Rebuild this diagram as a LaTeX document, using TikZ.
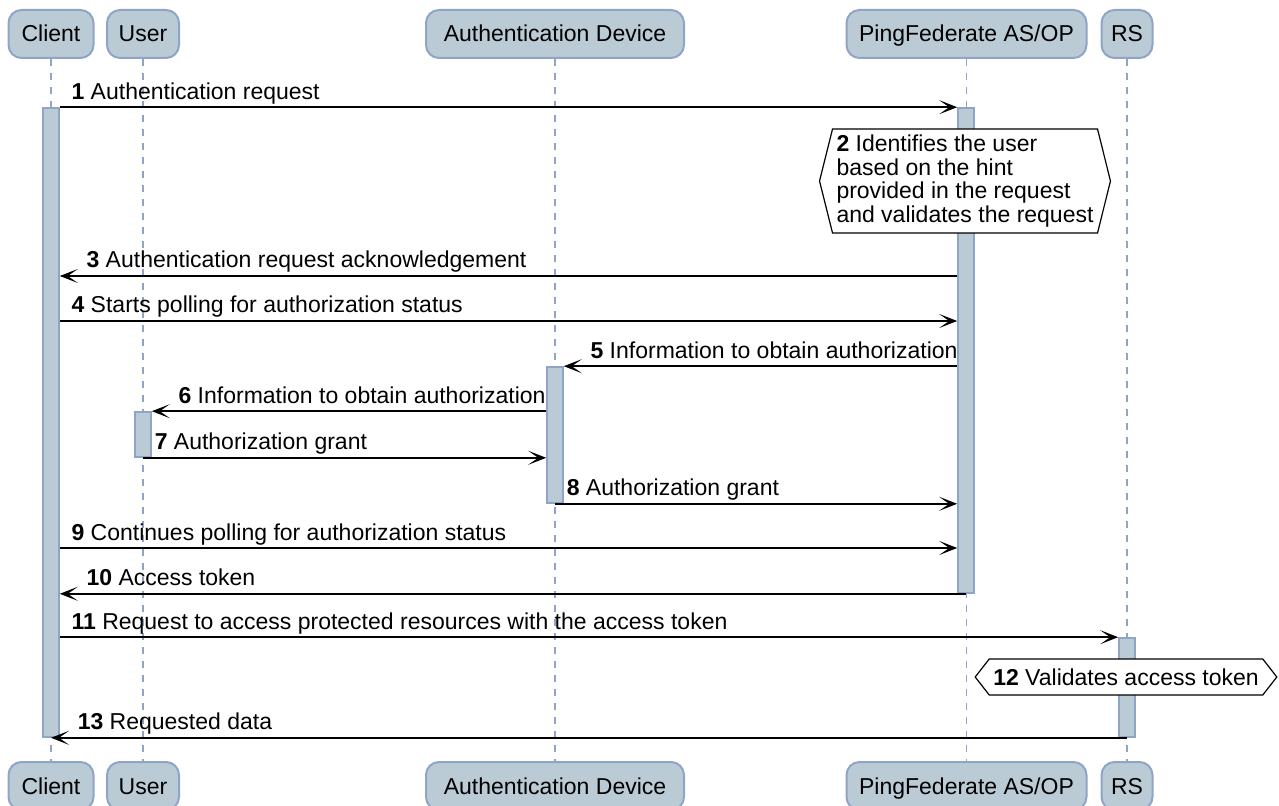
\documentclass[tikz,border=0pt]{standalone}
\usepackage{fontspec}
\setmainfont{Liberation Sans}
\usetikzlibrary{arrows.meta,positioning,fit,shapes.symbols}
\definecolor{boxfill}{RGB}{186,203,214}
\definecolor{boxline}{RGB}{143,164,198}

\begin{document}
\begin{tikzpicture}[x=0.5pt, y=-0.5pt, node distance=376pt, on grid,
  font={\fontsize{11.5}{11.7}\selectfont},
  actor/.style={draw=boxline, fill=boxfill, line width=1pt, rounded corners=6.5pt, minimum height=24pt, inner sep=0pt, text height=10pt, text depth=2pt},
  life/.style={draw=boxline, line width=0.6pt, dash pattern=on 3.5pt off 3.5pt},
  bar/.style={draw=boxline, fill=boxfill, line width=0.8pt, inner sep=0pt},
  msg/.style={-{Stealth[length=9pt, width=7pt, inset=5pt]}, line width=0.75pt},
  rlabel/.style={pos=0, anchor=base west, inner sep=0pt, xshift=5.5pt, yshift=4pt},
  llabel/.style={pos=1, anchor=base west, inner sep=0pt, xshift=13pt, yshift=4pt},
  note/.style={shape=signal, signal to=west and east, draw, fill=white, line width=0.6pt, align=left, inner xsep=2pt, inner ysep=2pt}]
\useasboundingbox (0,0) rectangle (1279,806);

% participants
\node[actor, minimum width=42.5pt] (client) at (51,34) {Client};
\node[actor, minimum width=36pt] (user) at (143,34) {User};
\node[actor, minimum width=129pt] (device) at (555,34) {Authentication Device};
\node[actor, minimum width=120pt] (ping) at (966.5,34) {PingFederate AS/OP};
\node[actor, minimum width=25.5pt] (rs) at (1127,34) {RS};

\node[actor, minimum width=42.5pt, below = of client] (client2) {Client};
\node[actor, minimum width=36pt, below = of user] (user2) {User};
\node[actor, minimum width=129pt, below = of device] (device2) {Authentication Device};
\node[actor, minimum width=120pt, below = of ping] (ping2) {PingFederate AS/OP};
\node[actor, minimum width=25.5pt, below = of rs] (rs2) {RS};

\draw[life] (client) -- (client2);
\draw[life] (user) -- (user2);
\draw[life] (device) -- (device2);
\draw[life] (ping) -- (ping2);
\draw[life] (rs) -- (rs2);

% activations
\node[bar, fit={(43,108) (59,737)}] (cbar) {};
\node[bar, fit={(958,108) (974,593)}] (pfbar) {};
\node[bar, fit={(547,367) (563,503)}] (adbar) {};
\node[bar, fit={(135,412) (151,457)}] (ubar) {};
\node[bar, fit={(1119,638) (1135,737)}] (rsbar) {};

\coordinate (r3) at (0,276);
\coordinate (r4) at (0,321);
\coordinate (r9) at (0,548);

\draw[msg] (cbar.north east) -- (pfbar.north west) node[rlabel] (l1) {\textbf{1} Authentication request};

\node[note, signal pointer angle=152, minimum height=52pt] (note2) at (965,181) {\textbf{2} Identifies the user\\based on the hint\\provided in the request\\and validates the request};

\draw[msg] (pfbar.west |- r3) -- (cbar.east |- r3) node[llabel] (l3) {\textbf{3} Authentication request acknowledgement};
\draw[msg] (cbar.east |- r4) -- (pfbar.west |- r4) node[rlabel] (l4) {\textbf{4} Starts polling for authorization status};
\draw[msg] (pfbar.west |- adbar.north) -- (adbar.north east) node[llabel] (l5) {\textbf{5} Information to obtain authorization};
\draw[msg] (adbar.west |- ubar.north) -- (ubar.north east) node[llabel] (l6) {\textbf{6} Information to obtain authorization};
\draw[msg] (ubar.south) -- (adbar.west |- ubar.south) node[rlabel] (l7) {\textbf{7} Authorization grant};
\draw[msg] (adbar.south) -- (pfbar.west |- adbar.south) node[rlabel] (l8) {\textbf{8} Authorization grant};
\draw[msg] (cbar.east |- r9) -- (pfbar.west |- r9) node[rlabel] (l9) {\textbf{9} Continues polling for authorization status};
\draw[msg] (pfbar.south) -- (cbar.east |- pfbar.south) node[llabel] (l10) {\textbf{10} Access token};
\draw[msg] (cbar.east |- rsbar.north) -- (rsbar.north west) node[rlabel] (l11) {\textbf{11} Request to access protected resources with the access token};

\node[note, signal pointer angle=104, minimum height=18pt] (note12) at (1126,677) {\textbf{12} Validates access token};

\draw[msg] (rsbar.south) -- (cbar.south) node[llabel] (l13) {\textbf{13} Requested data};
\end{tikzpicture}
\end{document}
